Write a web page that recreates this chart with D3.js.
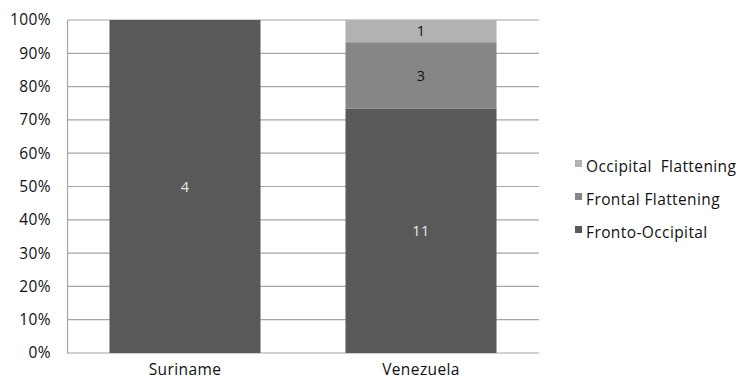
<!DOCTYPE html>
<html>
<head>
<meta charset="utf-8">
<script src="https://cdn.jsdelivr.net/npm/d3@7"></script>
<style>
  body { margin: 0; background: #fff; }
  svg text { font-family: "Open Sans", "Noto Sans", sans-serif; letter-spacing: 0.4px; }
  .legend-label { white-space: pre; }
</style>
</head>
<body>
<svg id="chart" width="740" height="383"></svg>
<script>
// Counts per country, stacked to 100%
const countries = ["Suriname", "Venezuela"];
const seriesNames = ["Fronto-Occipital", "Frontal Flattening", "Occipital  Flattening"];
const frontoOccipital = [4, 11];
const frontalFlattening = [0, 3];
const occipitalFlattening = [0, 1];
const yTicks = [0, 0.1, 0.2, 0.3, 0.4, 0.5, 0.6, 0.7, 0.8, 0.9, 1.0];

const colors = ["#595959", "#868686", "#b2b2b2"];
const labelColors = ["#e6e6e6", "#111", "#111"];

const rows = countries.map((c, i) => ({
  country: c,
  [seriesNames[0]]: frontoOccipital[i],
  [seriesNames[1]]: frontalFlattening[i],
  [seriesNames[2]]: occipitalFlattening[i]
}));

const svg = d3.select("#chart");
const margin = { left: 67, right: 201, top: 20, bottom: 30 };
const W = 740, H = 383;
const fs = 15.5;

const x = d3.scaleBand().domain(countries)
  .range([margin.left, W - margin.right]).paddingInner(0.36).paddingOuter(0.18);
const y = d3.scaleLinear().domain([0, 1]).range([H - margin.bottom, margin.top]);

const stack = d3.stack().keys(seriesNames).offset(d3.stackOffsetExpand);
const layers = stack(rows);

// gridlines
svg.append("g").selectAll("line").data(yTicks).join("line")
  .attr("x1", margin.left).attr("x2", W - margin.right)
  .attr("y1", d => y(d)).attr("y2", d => y(d))
  .attr("stroke", "#a6a6a6").attr("stroke-width", 1.2);

// y axis
const yAxis = d3.axisLeft(y).tickValues(yTicks).tickFormat(d3.format(".0%")).tickSize(0).tickPadding(16);
const gy = svg.append("g").attr("transform", `translate(${margin.left},0)`).call(yAxis);
gy.select(".domain").attr("stroke", "#a6a6a6").attr("stroke-width", 1.2);
gy.selectAll("text").attr("font-size", fs).attr("fill", "#111");

// bars with count labels
layers.forEach((layer, li) => {
  const g = svg.append("g");
  layer.forEach((seg, i) => {
    const v = rows[i][layer.key];
    if (!v) return;
    g.append("rect")
      .attr("x", x(countries[i])).attr("width", x.bandwidth())
      .attr("y", y(seg[1])).attr("height", y(seg[0]) - y(seg[1]))
      .attr("fill", colors[li]);
    g.append("text")
      .attr("x", x(countries[i]) + x.bandwidth() / 2)
      .attr("y", (y(seg[0]) + y(seg[1])) / 2)
      .attr("dy", "0.35em").attr("text-anchor", "middle")
      .attr("font-size", 14.5).attr("fill", labelColors[li])
      .text(v);
  });
});

// x axis labels
const xAxis = d3.axisBottom(x).tickSize(0).tickPadding(11);
const gx = svg.append("g").attr("transform", `translate(0,${y(0)})`).call(xAxis);
gx.select(".domain").remove();
gx.selectAll("text").attr("font-size", fs).attr("fill", "#111");

// legend, top series first
const legendOrder = seriesNames.slice().reverse();
const legendY = d3.scalePoint().domain(legendOrder).range([167, 233]);
const lg = svg.append("g");
legendOrder.forEach(name => {
  const idx = seriesNames.indexOf(name);
  lg.append("rect").attr("x", 575).attr("y", legendY(name) - 7)
    .attr("width", 7).attr("height", 7).attr("fill", colors[idx]);
  lg.append("text").attr("class", "legend-label")
    .attr("x", 586).attr("y", legendY(name)).attr("dy", "0.35em")
    .attr("font-size", fs).attr("fill", "#111").text(name);
});
</script>
</body>
</html>
